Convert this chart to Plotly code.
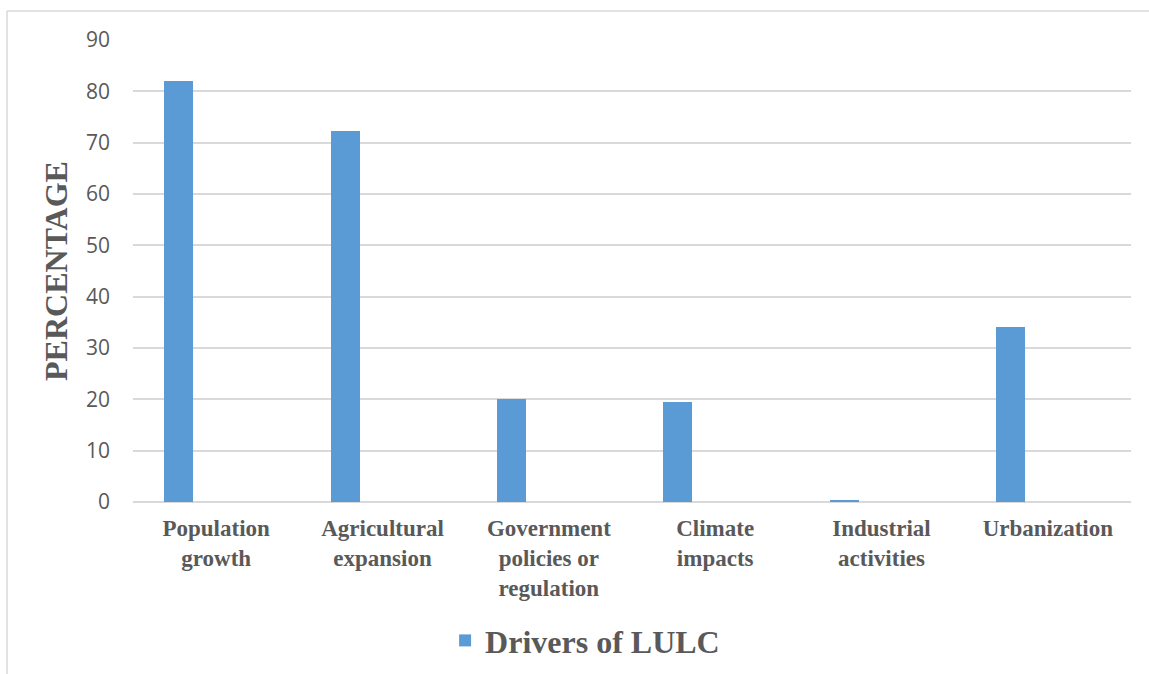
import plotly.graph_objects as go

# Drivers of land use / land cover change (percentage of respondents)
categories = [
    "Population<br>growth",
    "Agricultural<br>expansion",
    "Government<br>policies or<br>regulation",
    "Climate<br>impacts",
    "Industrial<br>activities",
    "Urbanization",
]
values = [82.1, 72.2, 20.0, 19.5, 0.3, 34.0]
series_name = "Drivers of LULC"
y_ticks = [0, 10, 20, 30, 40, 50, 60, 70, 80, 90]

BAR_COLOR = "#5B9BD5"
TEXT_GRAY = "#595959"
GRID = "#D9D9D9"
SERIF = "Liberation Serif"

fig = go.Figure()
fig.add_trace(go.Bar(
    x=categories,
    y=values,
    name=series_name,
    marker=dict(color=BAR_COLOR, line=dict(width=0)),
    width=0.175,
    offset=-0.312,
    showlegend=True,
))

fig.update_layout(
    width=1149,
    height=674,
    margin=dict(l=133, r=18, t=40, b=172, autoexpand=False),
    paper_bgcolor="white",
    plot_bgcolor="white",
    bargap=0,
    showlegend=True,
    legend=dict(
        orientation="h",
        x=0.453, xanchor="center",
        y=-0.30, yanchor="middle",
        font=dict(family=SERIF, size=32, color=TEXT_GRAY, weight="bold"),
        itemsizing="constant",
        bgcolor="rgba(0,0,0,0)",
    ),
    xaxis=dict(
        type="category",
        automargin=False,
        showgrid=False,
        showline=False,
        zeroline=False,
        ticks="",
        tickfont=dict(family=SERIF, size=23, color=TEXT_GRAY, weight="bold"),
        ticklabelstandoff=10,
    ),
    yaxis=dict(
        range=[0, 90],
        automargin=False,
        tickvals=y_ticks,
        ticktext=[str(v) for v in y_ticks],
        showgrid=True,
        gridcolor=GRID,
        gridwidth=1.5,
        zeroline=True,
        zerolinecolor=GRID,
        zerolinewidth=1.5,
        showline=False,
        ticks="",
        ticklabelstandoff=22,
        tickfont=dict(family="Open Sans", size=21, color=TEXT_GRAY),
        title=dict(
            text="PERCENTAGE",
            font=dict(family=SERIF, size=32, color=TEXT_GRAY, weight="bold"),
            standoff=8,
        ),
    ),
    shapes=[
        # chart-area border (top and left edges)
        dict(type="line", xref="paper", yref="paper",
             x0=-126 / 998, x1=1.2, y0=1 + 29 / 462, y1=1 + 29 / 462,
             line=dict(color=GRID, width=1.5)),
        dict(type="line", xref="paper", yref="paper",
             x0=-126 / 998, x1=-126 / 998, y0=1 + 29 / 462, y1=-0.5,
             line=dict(color=GRID, width=1.5)),
    ],
)

fig.write_html("out.html")
